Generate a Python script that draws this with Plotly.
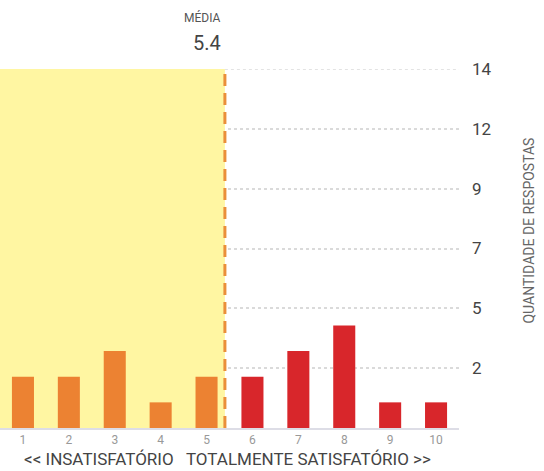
import plotly.graph_objects as go

categories = [1, 2, 3, 4, 5, 6, 7, 8, 9, 10]
respostas = [2, 2, 3, 1, 2, 2, 3, 4, 1, 1]
bar_colors = ["#EC8232"] * 5 + ["#D8262B"] * 5
media = 5.4
y_tickvals = [14 * i / 6 for i in range(1, 7)]
y_ticktext = ["2", "5", "7", "9", "12", "14"]

plot_left, plot_right = 0, 459

fig = go.Figure()
fig.add_trace(go.Bar(
    x=categories, y=respostas, marker_color=bar_colors, width=0.48,
    marker_line_width=0, hoverinfo="x+y"))

# yellow "insatisfatório" zone
fig.add_shape(type="rect", xref="x", yref="y", x0=0.5, x1=media, y0=0, y1=max(y_tickvals),
              fillcolor="#FFF6A2", line_width=0, layer="between")
# top gridline (at the axis edge)
fig.add_shape(type="line", xref="x", yref="y", x0=media, x1=10.5,
              y0=max(y_tickvals), y1=max(y_tickvals),
              line=dict(color="#DADADA", width=1.5, dash="dot"), layer="between")
# mean line
fig.add_shape(type="line", xref="x", yref="y", x0=media, x1=media, y0=0, y1=max(y_tickvals),
              line=dict(color="#EA8F3A", width=3, dash="12px,7px"), layer="above")

fig.add_annotation(x=media, xref="x", y=1.0, yref="paper", yshift=52,
                   text="MÉDIA", showarrow=False, xanchor="right", yanchor="middle",
                   xshift=-2, font=dict(size=12, color="#555", family="Roboto"))
fig.add_annotation(x=media, xref="x", y=1.0, yref="paper", yshift=26,
                   text="5.4", showarrow=False, xanchor="right", yanchor="middle",
                   xshift=-2, font=dict(size=20, color="#444", family="Roboto"))
fig.add_annotation(x=(539 - plot_left) / (plot_right - plot_left), xref="paper",
                   y=0.55, yref="paper",
                   text="QUANTIDADE DE RESPOSTAS", textangle=-90, showarrow=False,
                   font=dict(size=14, color="#666", family="Roboto"))
fig.add_annotation(x=0.495, xref="paper", y=0, yref="paper", yshift=-31,
                   text="<< INSATISFATÓRIO   TOTALMENTE SATISFATÓRIO >>",
                   showarrow=False, yanchor="middle",
                   font=dict(size=17, color="#444", family="Roboto"))

fig.update_layout(
    width=544, height=471,
    margin=dict(l=plot_left, r=544 - plot_right, t=69, b=43),
    paper_bgcolor="white", plot_bgcolor="white",
    showlegend=False,
    xaxis=dict(range=[0.5, 10.5], tickvals=categories, showgrid=False,
               showline=True, linecolor="#DDDDE6", linewidth=2,
               tickfont=dict(size=12, color="#999", family="Roboto"),
               ticks="", zeroline=False, fixedrange=True, automargin=False),
    yaxis=dict(range=[0, 14], side="right", tickvals=y_tickvals, ticktext=y_ticktext,
               showgrid=True, gridcolor="#DADADA", griddash="dot", gridwidth=1.5,
               zeroline=False, ticklabelstandoff=12,
               tickfont=dict(size=17, color="#444", family="Roboto"),
               fixedrange=True, automargin=False),
)

fig.write_html("out.html", config={"displayModeBar": False},
               post_script="document.body.style.margin='0';document.body.style.overflow='hidden';")
